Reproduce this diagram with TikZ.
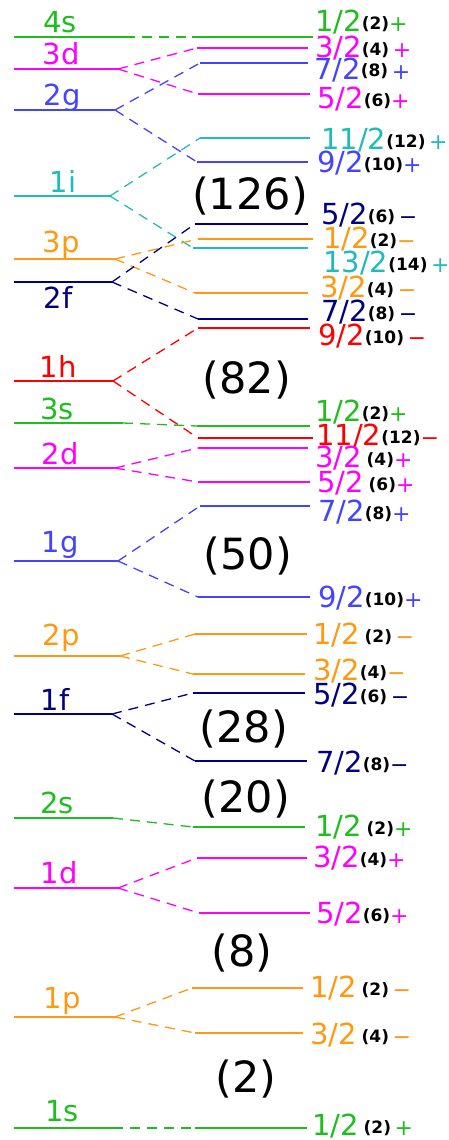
\documentclass[tikz,border=0pt]{standalone}
\usepackage{fontspec}
\setmainfont{DejaVu Sans}
\definecolor{kgreen}{RGB}{30,190,30}
\definecolor{kmag}{RGB}{255,0,255}
\definecolor{kblue}{RGB}{68,68,255}
\definecolor{kcyan}{RGB}{34,187,187}
\definecolor{korange}{RGB}{255,153,17}
\definecolor{knavy}{RGB}{0,0,128}
\definecolor{kred}{RGB}{255,0,0}
\newcommand\jlab[3]{#1{\color{black}\bfseries\fontsize{17}{17}\selectfont\raisebox{2pt}{(#2)}}{\fontsize{22}{22}\selectfont #3}}
\tikzset{
  lev/.style={line width=2pt},
  con/.style={line width=1.3pt, dash pattern=on 10pt off 7pt},
  jl/.style={anchor=base west, inner sep=0pt, font=\fontsize{29}{29}\selectfont},
  ll/.style={anchor=base, inner sep=0pt, font=\fontsize{29}{29}\selectfont},
  magic/.style={anchor=base, inner sep=0pt, font=\fontsize{43}{43}\selectfont, text=black},
}
% left level: [extra] name, color, y, xend, label, labelx, labely
\newcommand\leftlev[8][]{%
  \coordinate (#2a) at (14,#4); \coordinate (#2b) at (#5,#4);
  \draw[lev,draw=#3,#1] (#2a) -- (#2b);
  \node[ll,text=#3] (#2l) at (#7,#8) {#6};}
% right level: [extra] name, color, y, xstart, xend, labelx, labely, text
\newcommand\rightlev[9][]{%
  \coordinate (#2a) at (#5,#4); \coordinate (#2b) at (#6,#4);
  \draw[lev,draw=#3,#1] (#2a) -- (#2b);
  \node[jl,text=#3] (#2l) at (#7,#8) {#9};}
\begin{document}
\begin{tikzpicture}[x=1pt,y=-1pt]
\useasboundingbox (0,0) rectangle (449,1140);
% left levels
\leftlev{L4s}{kgreen}{37}{125}{4s}{60}{33}
\leftlev{L3d}{kmag}{69}{118}{3d}{61}{65}
\leftlev{L2g}{kblue}{110}{115}{2g}{62}{105}
\leftlev{L1i}{kcyan}{196}{110}{1i}{63}{192}
\leftlev{L3p}{korange}{259}{115}{3p}{61}{252}
\leftlev{L2f}{knavy}{282}{112}{2f}{58}{308}
\leftlev{L1h}{kred}{381}{113}{1h}{58}{377}
\leftlev{L3s}{kgreen}{423}{123}{3s}{57}{419}
\leftlev{L2d}{kmag}{468}{115}{2d}{60}{464}
\leftlev{L1g}{kblue}{561}{118}{1g}{60}{552}
\leftlev{L2p}{korange}{656}{120}{2p}{61}{645}
\leftlev{L1f}{knavy}{714}{112}{1f}{55}{710}
\leftlev{L2s}{kgreen}{818}{113}{2s}{57}{813}
\leftlev[line width=1.6pt]{L1d}{kmag}{888}{118}{1d}{59}{883}
\leftlev[line width=1.2pt]{L1p}{korange}{1017}{115}{1p}{62}{1008}
\leftlev{L1s}{kgreen}{1128}{113}{1s}{62}{1121}
% right levels
\rightlev{R4s}{kgreen}{37}{192}{313}{315}{32}{\jlab{1/2}{2}{+}}
\rightlev{R3dt}{kmag}{48}{197}{308}{315}{58}{\jlab{3/2}{4}{\,+}}
\rightlev{R2gs}{kblue}{63}{200}{308}{314}{79}{\jlab{7/2}{8}{\,+}}
\rightlev{R3df}{kmag}{94}{198}{310}{317}{108}{\jlab{5/2}{6}{+}}
\rightlev{R1ie}{kcyan}{138}{200}{310}{321}{149}{\jlab{11/2}{12}{\,+}}
\rightlev{R2gn}{kblue}{162}{197}{308}{317}{172}{\jlab{9/2}{10}{+}}
\rightlev{R2ff}{knavy}{224}{195}{308}{321}{224}{\jlab{5/2}{6}{\,−}}
\rightlev{R3po}{korange}{239}{198}{313}{323}{248}{\jlab{1/2}{2}{−}}
\rightlev{R1it}{kcyan}{248}{193}{308}{323}{272}{\jlab{13/2}{14}{\,+}}
\rightlev{R3pt}{korange}{293}{195}{308}{320}{297}{\jlab{3/2}{4}{\,−}}
\rightlev{R2fs}{knavy}{319}{198}{308}{321}{321}{\jlab{7/2}{8}{\,−}}
\rightlev{R1hn}{kred}{328}{198}{310}{318}{345}{\jlab{9/2}{10}{\,−}}
\rightlev{R3s}{kgreen}{426}{197}{310}{315}{421}{\jlab{1/2}{2}{+}}
\rightlev{R1he}{kred}{438}{198}{313}{316}{445}{\jlab{11/2}{12}{−}}
\rightlev{R2dt}{kmag}{448}{198}{308}{315}{467}{\jlab{3/2\,}{4}{+}}
\rightlev{R2df}{kmag}{482}{198}{310}{317}{492}{\jlab{5/2\,}{6}{+}}
\rightlev{R1gs}{kblue}{506}{200}{310}{318}{521}{\jlab{7/2}{8}{+}}
\rightlev{R1gn}{kblue}{597}{198}{310}{318}{607}{\jlab{9/2}{10}{+}}
\rightlev{R2po}{korange}{634}{195}{307}{313}{644}{\jlab{1/2\,}{2}{\,−}}
\rightlev{R2pt}{korange}{674}{193}{305}{313}{680}{\jlab{3/2}{4}{−}}
\rightlev{R1ff}{knavy}{693}{193}{305}{313}{704}{\jlab{5/2}{6}{\,−}}
\rightlev{R1fs}{knavy}{761}{195}{307}{316}{772}{\jlab{7/2}{8}{−}}
\rightlev{R2s}{kgreen}{827}{193}{305}{315}{836}{\jlab{1/2\,}{2}{+}}
\rightlev{R1dt}{kmag}{858}{197}{307}{313}{867}{\jlab{3/2}{4}{+}}
\rightlev{R1df}{kmag}{913}{199}{310}{316}{923}{\jlab{5/2}{6}{+}}
\rightlev{R1po}{korange}{988}{192}{303}{310}{997}{\jlab{1/2\,}{2}{\,−}}
\rightlev[line width=1.2pt]{R1pt}{korange}{1033}{195}{303}{310}{1044}{\jlab{3/2\,}{4}{\,−}}
\rightlev{R1s}{kgreen}{1128}{195}{307}{312}{1135}{\jlab{1/2\,}{2}{\,+}}
% connectors
\draw[con,draw=kgreen] (L4sb) -- (R4sa);
\draw[con,draw=kmag] (L3db) -- (R3dta); \draw[con,draw=kmag] (L3db) -- (R3dfa);
\draw[con,draw=kblue] (L2gb) -- (R2gsa); \draw[con,draw=kblue] (L2gb) -- (R2gna);
\draw[con,draw=kcyan] (L1ib) -- (R1iea); \draw[con,draw=kcyan] (L1ib) -- (R1ita);
\draw[con,draw=korange] (L3pb) -- (R3poa); \draw[con,draw=korange] (L3pb) -- (R3pta);
\draw[con,draw=knavy] (L2fb) -- (R2ffa); \draw[con,draw=knavy] (L2fb) -- (R2fsa);
\draw[con,draw=kred] (L1hb) -- (R1hna); \draw[con,draw=kred] (L1hb) -- (R1hea);
\draw[con,draw=kgreen] (L3sb) -- (R3sa);
\draw[con,draw=kmag] (L2db) -- (R2dta); \draw[con,draw=kmag] (L2db) -- (R2dfa);
\draw[con,draw=kblue] (L1gb) -- (R1gsa); \draw[con,draw=kblue] (L1gb) -- (R1gna);
\draw[con,draw=korange] (L2pb) -- (R2poa); \draw[con,draw=korange] (L2pb) -- (R2pta);
\draw[con,draw=knavy] (L1fb) -- (R1ffa); \draw[con,draw=knavy] (L1fb) -- (R1fsa);
\draw[con,draw=kgreen] (L2sb) -- (R2sa);
\draw[con,draw=kmag] (L1db) -- (R1dta); \draw[con,draw=kmag] (L1db) -- (R1dfa);
\draw[con,draw=korange] (L1pb) -- (R1poa); \draw[con,draw=korange] (L1pb) -- (R1pta);
\draw[con,draw=kgreen] (L1sb) -- (R1sa);
% magic numbers
\node[magic] (m126) at (250,209) {(126)};
\node[magic] (m82) at (247,393) {(82)};
\node[magic] (m50) at (248,569) {(50)};
\node[magic] (m28) at (244,742) {(28)};
\node[magic] (m20) at (246,812) {(20)};
\node[magic] (m8) at (242,966) {(8)};
\node[magic] (m2) at (246,1092) {(2)};
\end{tikzpicture}
\end{document}
